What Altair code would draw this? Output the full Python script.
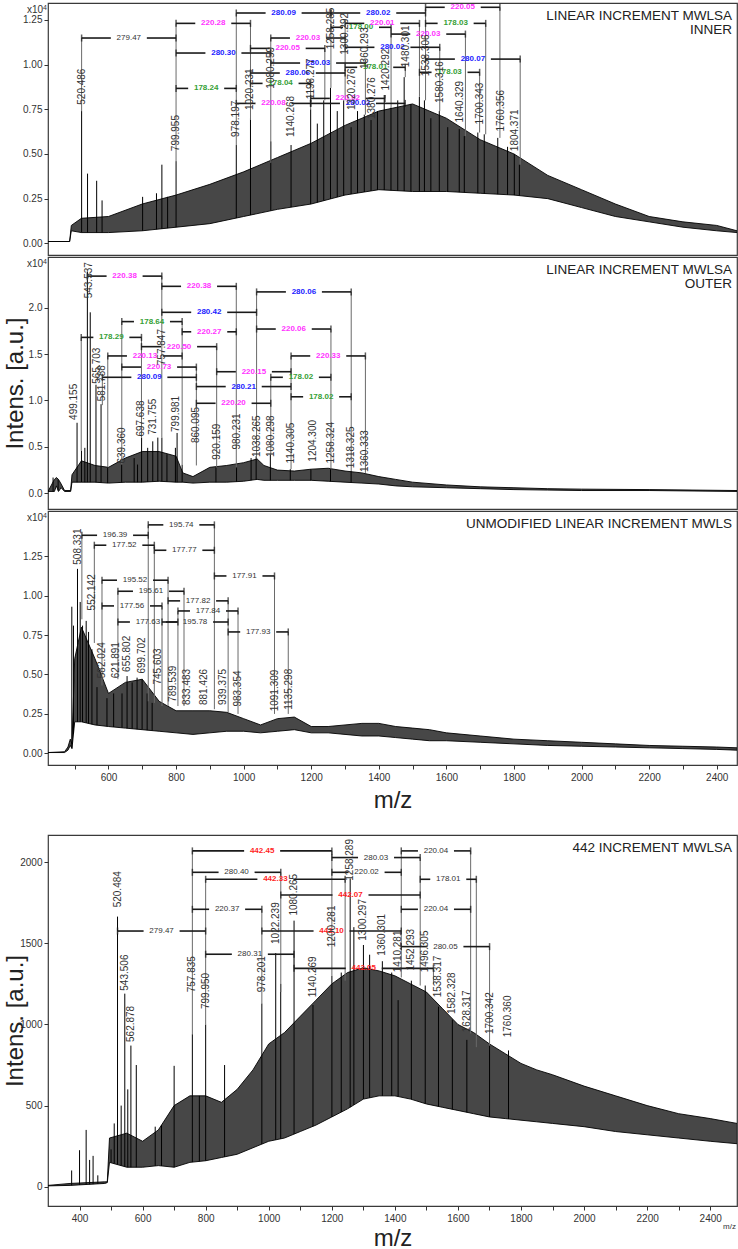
import altair as alt
import numpy as np
import pandas as pd

FONT = "Liberation Sans"
W = 689
MAG = "#ff33ff"
BLU = "#2222ff"
GRN = "#35a035"
RED = "#ff1f1f"
BLK = "#2a2a2a"

# ---------------- Panel 1 : LINEAR INCREMENT MWLSA INNER (x10^4)
p1_env_mz = [421, 485, 490, 520, 600, 700, 800, 900, 1000, 1100, 1200, 1300, 1400, 1500, 1600, 1700, 1800, 1900, 2000, 2100, 2200, 2300, 2400, 2460]
p1_env_lo = [0.01, 0.01, 0.07, 0.06, 0.06, 0.07, 0.09, 0.11, 0.15, 0.19, 0.22, 0.27, 0.30, 0.29, 0.29, 0.28, 0.27, 0.25, 0.20, 0.15, 0.12, 0.09, 0.07, 0.06]
p1_env_hi = [0.01, 0.01, 0.10, 0.14, 0.15, 0.22, 0.27, 0.33, 0.40, 0.48, 0.56, 0.66, 0.74, 0.78, 0.70, 0.58, 0.50, 0.38, 0.30, 0.22, 0.15, 0.12, 0.10, 0.07]
p1_spk_mz = [520.5, 538, 565, 581, 701, 742, 758, 775, 800.0, 978.2, 1020.2, 1080.3, 1140.3, 1198.3, 1218, 1237, 1257, 1277, 1296, 1318, 1337, 1357, 1377, 1396, 1416, 1436, 1456, 1475, 1495, 1520, 1535, 1554, 1579, 1604, 1638, 1653, 1693, 1712, 1752, 1781, 1801, 1816]
p1_spk_h = [0.74, 0.39, 0.35, 0.24, 0.26, 0.28, 0.44, 0.26, 0.46, 0.55, 0.70, 0.57, 0.55, 0.75, 0.67, 0.80, 0.87, 0.74, 0.80, 0.65, 0.74, 0.72, 0.69, 0.74, 0.83, 0.76, 0.80, 0.93, 0.78, 0.82, 0.80, 0.70, 0.74, 0.65, 0.64, 0.60, 0.62, 0.61, 0.59, 0.54, 0.50, 0.44]
p1_stem_mz = [520.486, 799.955, 978.197, 1020.231, 1080.259, 1198.277, 1240.28, 1258.285, 1300.29, 1360.29, 1418.30, 1436.29, 1478.30, 1520.30, 1538.305, 1580.31, 1656.32, 1698.33, 1716.335, 1758.355, 1818.375]
p1_stem_base = [0.74, 0.46, 0.55, 0.69, 0.45, 0.75, 0.80, 0.87, 0.80, 0.72, 0.83, 0.76, 0.93, 0.82, 0.80, 0.74, 0.60, 0.62, 0.61, 0.59, 0.44]
p1_br_x1 = [520.486, 799.955, 978.197, 799.955, 799.955, 1080.259, 1020.231, 1080.259, 1020.231, 1020.231, 978.197, 1258.285, 1300.29, 1258.285, 1538.305, 1538.305, 1436.29, 1300.29, 1538.305, 1300.29, 1520.30, 1198.277, 1198.277]
p1_br_x2 = [799.955, 1020.231, 1258.285, 1080.259, 978.197, 1300.29, 1240.28, 1360.29, 1300.29, 1198.277, 1198.277, 1436.29, 1520.30, 1538.305, 1758.355, 1716.335, 1656.32, 1580.31, 1818.375, 1478.30, 1698.33, 1418.30, 1478.30]
p1_br_y = [1.149, 1.231, 1.289, 1.065, 0.867, 1.149, 1.091, 1.009, 0.953, 0.895, 0.783, 1.209, 1.231, 1.289, 1.321, 1.231, 1.171, 1.097, 1.031, 0.985, 0.957, 0.811, 0.783]
p1_br_txt = ["279.47", "220.28", "280.09", "280.30", "178.24", "220.03", "220.05", "280.03", "280.06", "178.04", "220.08", "178.00", "220.01", "280.02", "220.05", "178.03", "220.03", "280.02", "280.07", "178.01", "178.03", "220.02", "280.02"]
p1_br_col = [BLK, MAG, BLU, BLU, GRN, MAG, MAG, BLU, BLU, GRN, MAG, GRN, MAG, BLU, MAG, GRN, MAG, BLU, BLU, GRN, GRN, MAG, BLU]
p1_lab_txt = ["520.486", "799.955", "978.197", "1020.231", "1080.259", "1140.268", "1198.277", "1258.285", "1300.292", "1320.276", "1360.293", "1380.276", "1420.292", "1480.301", "1538.306", "1580.316", "1640.329", "1700.343", "1760.356", "1804.371"]
p1_lab_mz = [520.486, 799.955, 978.197, 1020.231, 1080.259, 1140.268, 1198.277, 1258.285, 1300.292, 1320.276, 1360.293, 1380.276, 1420.292, 1480.301, 1538.306, 1580.316, 1640.329, 1700.343, 1760.356, 1804.371]
p1_lab_y = [0.77, 0.51, 0.59, 0.74, 0.86, 0.59, 0.80, 1.08, 1.05, 0.74, 0.97, 0.69, 0.85, 0.98, 0.93, 0.78, 0.67, 0.66, 0.62, 0.51]

# ---------------- Panel 2 : LINEAR INCREMENT MWLSA OUTER (x10^4)
p2_env_mz = [421, 440, 446, 452, 460, 470, 488, 492, 520, 560, 600, 650, 700, 750, 800, 820, 850, 900, 950, 1000, 1040, 1060, 1100, 1150, 1200, 1250, 1300, 1350, 1400, 1450, 1500, 1600, 1700, 1800, 1900, 2000, 2200, 2460]
p2_env_lo = [0.02, 0.02, 0.08, 0.02, 0.06, 0.02, 0.02, 0.12, 0.12, 0.12, 0.11, 0.12, 0.12, 0.13, 0.12, 0.12, 0.11, 0.12, 0.12, 0.13, 0.15, 0.14, 0.14, 0.14, 0.14, 0.13, 0.12, 0.11, 0.10, 0.08, 0.07, 0.06, 0.05, 0.04, 0.035, 0.03, 0.03, 0.02]
p2_env_hi = [0.02, 0.15, 0.17, 0.15, 0.10, 0.03, 0.03, 0.20, 0.35, 0.30, 0.28, 0.38, 0.45, 0.45, 0.40, 0.22, 0.18, 0.28, 0.30, 0.33, 0.37, 0.30, 0.25, 0.24, 0.26, 0.27, 0.24, 0.22, 0.18, 0.15, 0.12, 0.09, 0.07, 0.06, 0.05, 0.045, 0.04, 0.03]
p2_spk_mz = [436, 451, 507, 520, 530, 537.5, 546, 563, 578, 597.5, 639, 676, 686, 698, 716, 731, 746, 758, 773, 798, 803, 818, 918, 979, 1022, 1037, 1079, 1138, 1199, 1257, 1318]
p2_spk_h = [0.17, 0.15, 0.76, 0.46, 0.49, 2.39, 1.95, 1.17, 0.96, 0.28, 0.31, 0.38, 0.31, 0.60, 0.49, 0.56, 0.60, 0.60, 0.42, 0.49, 0.65, 0.31, 0.28, 0.28, 0.38, 0.40, 0.42, 0.26, 0.26, 0.26, 0.24]
p2_stem_mz = [519.35, 537.47, 581.788, 597.87, 639.36, 697.638, 757.847, 818.0, 860.095, 920.159, 978.227, 1038.265, 1080.298, 1140.305, 1258.324, 1318.325, 1360.333]
p2_stem_base = [0.46, 2.30, 0.95, 0.28, 0.31, 0.60, 0.60, 0.31, 0.30, 0.28, 0.28, 0.40, 0.42, 0.26, 0.26, 0.24, 0.22]
p2_br_x1 = [537.47, 757.847, 1038.265, 757.847, 639.36, 519.35, 818.0, 1038.265, 697.638, 597.87, 639.36, 1140.305, 581.788, 920.159, 1080.298, 860.095, 1140.305, 860.095]
p2_br_x2 = [757.847, 978.227, 1318.325, 1038.265, 818.0, 697.638, 978.227, 1258.324, 920.159, 818.0, 860.095, 1360.333, 860.095, 1140.305, 1258.324, 1140.305, 1318.325, 1080.298]
p2_br_y = [2.34, 2.23, 2.17, 1.95, 1.85, 1.68, 1.74, 1.77, 1.58, 1.48, 1.36, 1.48, 1.25, 1.31, 1.25, 1.15, 1.04, 0.97]
p2_br_txt = ["220.38", "220.38", "280.06", "280.42", "178.64", "178.29", "220.27", "220.06", "220.50", "220.13", "220.73", "220.33", "280.09", "220.15", "178.02", "280.21", "178.02", "220.20"]
p2_br_col = [MAG, MAG, BLU, BLU, GRN, GRN, MAG, MAG, MAG, MAG, MAG, MAG, BLU, MAG, GRN, BLU, GRN, MAG]
p2_lab_txt = ["499.155", "543.537", "565.703", "581.788", "639.360", "697.638", "731.755", "757.847", "799.981", "860.095", "920.159", "980.231", "1038.265", "1080.298", "1140.305", "1204.300", "1258.324", "1318.325", "1360.333"]
p2_lab_mz = [499.155, 543.537, 565.703, 581.788, 639.36, 697.638, 731.755, 757.847, 799.981, 860.095, 920.159, 980.231, 1038.265, 1080.298, 1140.305, 1204.3, 1258.324, 1318.325, 1360.333]
p2_lab_y = [0.78, 2.09, 1.17, 0.98, 0.31, 0.60, 0.62, 1.37, 0.65, 0.53, 0.35, 0.46, 0.38, 0.38, 0.31, 0.33, 0.31, 0.26, 0.22]

# ---------------- Panel 3 : UNMODIFIED LINEAR INCREMENT MWLS (x10^4)
p3_env_mz = [421, 470, 480, 487, 492, 500, 520, 560, 600, 650, 700, 750, 800, 850, 900, 950, 1000, 1050, 1100, 1150, 1200, 1250, 1300, 1350, 1400, 1450, 1500, 1550, 1600, 1700, 1800, 1900, 2000, 2100, 2200, 2300, 2400, 2460]
p3_env_lo = [0.005, 0.005, 0.02, 0.05, 0.03, 0.20, 0.20, 0.18, 0.17, 0.16, 0.15, 0.14, 0.13, 0.12, 0.13, 0.14, 0.14, 0.13, 0.14, 0.15, 0.13, 0.13, 0.12, 0.11, 0.11, 0.10, 0.09, 0.08, 0.08, 0.07, 0.06, 0.05, 0.045, 0.04, 0.035, 0.03, 0.025, 0.02]
p3_env_hi = [0.005, 0.01, 0.04, 0.09, 0.06, 0.60, 0.80, 0.60, 0.38, 0.45, 0.47, 0.33, 0.27, 0.27, 0.27, 0.26, 0.22, 0.18, 0.22, 0.23, 0.17, 0.17, 0.18, 0.19, 0.19, 0.17, 0.16, 0.15, 0.13, 0.11, 0.09, 0.08, 0.07, 0.06, 0.05, 0.045, 0.04, 0.035]
p3_spk_mz = [491.5, 496.4, 508.3, 516.3, 523.2, 534, 541, 551, 566, 595.5, 615.3, 640, 655, 670, 684.6, 699.5, 714.4, 729.2]
p3_spk_h = [0.93, 0.81, 1.17, 0.96, 0.81, 0.84, 0.77, 0.66, 0.42, 0.35, 0.38, 0.38, 0.49, 0.45, 0.48, 0.47, 0.38, 0.32]
p3_stem_mz = [521.27, 558.11, 580.8, 627.88, 717.66, 735.63, 758.4, 776.3, 805.51, 823.5, 913.40, 954.1, 983.354, 1091.309, 1132.0]
p3_stem_base = [0.85, 0.70, 0.43, 0.47, 0.33, 0.32, 0.30, 0.30, 0.30, 0.30, 0.28, 0.26, 0.25, 0.25, 0.25]
p3_br_x1 = [717.66, 521.27, 558.11, 735.63, 913.40, 580.8, 627.88, 776.3, 580.8, 805.51, 627.88, 758.4, 954.1]
p3_br_x2 = [913.40, 717.66, 735.63, 913.40, 1091.309, 776.3, 823.5, 954.1, 758.4, 983.354, 805.51, 954.1, 1132.0]
p3_br_y = [1.449, 1.383, 1.32, 1.288, 1.125, 1.098, 1.028, 0.967, 0.935, 0.903, 0.833, 0.833, 0.77]
p3_br_txt = ["195.74", "196.39", "177.52", "177.77", "177.91", "195.52", "195.61", "177.82", "177.56", "177.84", "177.63", "195.78", "177.93"]
p3_br_col = [BLK] * 13
p3_lab_txt = ["508.331", "552.142", "582.024", "621.891", "655.802", "699.702", "745.603", "789.539", "833.483", "881.426", "939.375", "983.354", "1091.309", "1135.298"]
p3_lab_mz = [508.331, 552.142, 582.024, 621.891, 655.802, 699.702, 745.603, 789.539, 833.483, 881.426, 939.375, 983.354, 1091.309, 1135.298]
p3_lab_y = [1.19, 0.90, 0.47, 0.47, 0.51, 0.50, 0.43, 0.32, 0.30, 0.30, 0.30, 0.29, 0.26, 0.27]

# ---------------- Panel 4 : 442 INCREMENT MWLSA
p4_env_mz = [300, 370, 480, 488, 495, 550, 600, 650, 700, 750, 800, 850, 900, 950, 1000, 1050, 1100, 1150, 1200, 1250, 1300, 1350, 1400, 1450, 1500, 1550, 1600, 1650, 1700, 1750, 1800, 1850, 1900, 2000, 2100, 2200, 2300, 2400, 2485]
p4_env_lo = [5, 8, 20, 25, 150, 120, 120, 130, 120, 150, 160, 180, 200, 240, 280, 300, 340, 380, 430, 480, 540, 560, 560, 540, 510, 490, 470, 450, 430, 420, 410, 400, 390, 370, 340, 320, 300, 280, 265]
p4_env_hi = [8, 20, 30, 30, 300, 330, 280, 350, 500, 560, 560, 520, 600, 720, 880, 950, 1050, 1150, 1250, 1320, 1350, 1330, 1300, 1250, 1200, 1100, 1000, 950, 880, 820, 760, 720, 690, 620, 560, 500, 450, 420, 390]
p4_spk_mz = [375, 400, 421, 432, 443, 458, 500, 510, 520.5, 532, 543.5, 553, 562.9, 580, 640, 660, 700, 757.8, 780, 800, 860, 978.2, 1022.2, 1038, 1080.3, 1140.3, 1200.3, 1230, 1258.3, 1270, 1300.3, 1320, 1360.3, 1390, 1410.3, 1452.3, 1496.3, 1538.3, 1582.3, 1628.3, 1700.3, 1760.4]
p4_spk_h = [100, 225, 350, 165, 190, 70, 230, 390, 1665, 500, 1190, 600, 870, 750, 370, 380, 745, 940, 560, 1000, 750, 1130, 1440, 1250, 1640, 1120, 1300, 1320, 1900, 1600, 1490, 1430, 1390, 1320, 1150, 1270, 1240, 1110, 1030, 905, 870, 840]
p4_stem_mz = [520.484, 757.835, 799.950, 978.201, 1038.235, 1080.265, 1200.281, 1242.28, 1420.30, 1480.31, 1522.32, 1640.34, 1658.32, 1700.342]
p4_stem_base = [1560, 940, 1000, 1130, 1200, 1346, 1300, 1270, 1290, 1240, 1250, 945, 860, 870]
p4_br_x1 = [757.835, 1200.281, 1420.30, 757.835, 1200.281, 799.950, 1480.31, 1038.235, 757.835, 1420.30, 520.484, 978.201, 799.950, 1420.30, 1080.265]
p4_br_x2 = [1200.281, 1480.31, 1640.34, 1038.235, 1420.30, 1242.28, 1658.32, 1480.31, 978.201, 1640.34, 799.950, 1420.30, 1080.265, 1700.342, 1522.32]
p4_br_y = [2070, 2029, 2070, 1938, 1938, 1895, 1895, 1798, 1710, 1710, 1576, 1576, 1433, 1480, 1346]
p4_br_txt = ["442.45", "280.03", "220.04", "280.40", "220.02", "442.33", "178.01", "442.07", "220.37", "220.04", "279.47", "442.10", "280.31", "280.05", "442.05"]
p4_br_col = [RED, BLK, BLK, BLK, BLK, RED, BLK, RED, BLK, BLK, BLK, RED, BLK, BLK, RED]
p4_lab_txt = ["520.484", "543.506", "562.878", "757.835", "799.950", "978.201", "1022.239", "1080.265", "1140.269", "1200.281", "1258.289", "1300.297", "1360.301", "1410.281", "1452.293", "1496.305", "1538.317", "1582.328", "1628.317", "1700.342", "1760.360"]
p4_lab_mz = [520.484, 543.506, 562.878, 757.835, 799.950, 978.201, 1022.239, 1080.265, 1140.269, 1200.281, 1258.289, 1300.297, 1360.301, 1410.281, 1452.293, 1496.305, 1538.317, 1582.328, 1628.317, 1700.342, 1760.360]
p4_lab_y = [1716, 1202, 886, 1192, 1089, 1192, 1490, 1665, 1161, 1470, 1880, 1510, 1418, 1316, 1326, 1316, 1161, 1058, 946, 935, 915]


def build_panel(env_mz, env_lo, env_hi, spk_mz, spk_h, stem_mz, stem_base,
                br_x1, br_x2, br_y, br_txt, br_col, lab_mz, lab_txt, lab_y,
                xdom, ydom, h, yvals, yfmt, titles, xvals=None, ytitle=None, mult=False,
                small_mz=False, xtitle_y=42):
    k = W / (xdom[1] - xdom[0])
    xs = alt.Scale(domain=xdom, nice=False, zero=False)
    ys = alt.Scale(domain=ydom, nice=False, zero=False)
    if xvals is not None:
        xax = alt.Axis(values=xvals, format="d",
                       labelExpr="datum.value % 200 === 0 ? datum.label : ''",
                       title="m/z", titleFontSize=24, titleFontWeight="normal", titleColor="#222",
                       titleX=W / 2, titleY=xtitle_y, titleAlign="center", titleBaseline="alphabetic",
                       tickSize=4, labelPadding=3, labelFontSize=10)
    else:
        xax = None
    ykw = dict(values=yvals, format=yfmt, tickSize=4, labelPadding=2, labelFontSize=10)
    if ytitle:
        ykw.update(title=ytitle, titleFontSize=24, titleFontWeight="normal", titleColor="#222",
                   titleAngle=270, titleX=-26, titleY=h / 2, titleAlign="center",
                   titleBaseline="alphabetic")
    else:
        ykw.update(title=None)
    yax = alt.Axis(**ykw)

    def X(f):
        return alt.X(f, type="quantitative", scale=xs, axis=xax)

    def Y(f):
        return alt.Y(f, type="quantitative", scale=ys, axis=yax)

    env = pd.DataFrame({"mz": env_mz, "lo": env_lo, "hi": env_hi})
    layers = []
    layers.append(alt.Chart(env).mark_area(color="#000", opacity=0.72, clip=True).encode(
        x=X("mz"), y=Y("lo"), y2="hi:Q"))
    for f in ["hi", "lo"]:
        layers.append(alt.Chart(env).mark_line(color="#000", strokeWidth=0.9, clip=True).encode(
            x=X("mz"), y=Y(f)))

    spk = pd.DataFrame({"mz": spk_mz, "t": spk_h,
                        "b": np.interp(spk_mz, env_mz, env_lo)})
    layers.append(alt.Chart(spk).mark_rule(color="#000", strokeWidth=1, clip=True).encode(
        x=X("mz"), y=Y("b"), y2="t:Q"))

    tops = []
    for m in stem_mz:
        yy = [y for a, b, y in zip(br_x1, br_x2, br_y) if abs(a - m) < 0.5 or abs(b - m) < 0.5]
        tops.append(max(yy))
    stems = pd.DataFrame({"mz": stem_mz, "b": stem_base, "t": tops})
    layers.append(alt.Chart(stems).mark_rule(color="#6a6a6a", strokeWidth=1).encode(
        x=X("mz"), y=Y("b"), y2="t:Q"))

    g = 18.0 / k
    sa, sb, sy = [], [], []
    for a, b, y in zip(br_x1, br_x2, br_y):
        m = (a + b) / 2
        if m - g > a + 1:
            sa += [a, m + g]
            sb += [m - g, b]
            sy += [y, y]
    segs = pd.DataFrame({"mz": sa, "b": sb, "y": sy})
    layers.append(alt.Chart(segs).mark_rule(color="#1a1a1a", strokeWidth=1.6).encode(
        x=X("mz"), x2="b:Q", y=Y("y")))
    ends = pd.DataFrame({"mz": list(br_x1) + list(br_x2), "y": list(br_y) * 2})
    layers.append(alt.Chart(ends).mark_tick(orient="vertical", size=7, thickness=1.5, color="#1a1a1a").encode(
        x=X("mz"), y=Y("y")))

    brt = pd.DataFrame({"mz": [(a + b) / 2 for a, b in zip(br_x1, br_x2)], "y": br_y,
                        "txt": br_txt, "col": br_col})
    blk = brt[brt["col"] == BLK]
    colr = brt[brt["col"] != BLK]
    if len(colr):
        layers.append(alt.Chart(colr).mark_text(fontSize=8, fontWeight="bold", baseline="middle",
                                                 align="center", font=FONT).encode(
            x=X("mz"), y=Y("y"), text="txt:N", color=alt.Color("col:N", scale=None)))
    if len(blk):
        layers.append(alt.Chart(blk).mark_text(fontSize=8, baseline="middle", align="center",
                                                font=FONT, color="#333").encode(
            x=X("mz"), y=Y("y"), text="txt:N"))

    labs = pd.DataFrame({"mz": lab_mz, "y": lab_y, "txt": lab_txt})
    layers.append(alt.Chart(labs).mark_text(angle=270, align="left", baseline="middle", fontSize=10,
                                            color="#333", font=FONT, dx=1).encode(
        x=X("mz"), y=Y("y"), text="txt:N"))

    one = pd.DataFrame({"z": [0]})
    for i, t in enumerate(titles):
        layers.append(alt.Chart(one).mark_text(text=t, align="right", baseline="alphabetic",
                                               fontSize=13.5, color="#222", font=FONT).encode(
            x=alt.value(W - 5), y=alt.value(17 + 14 * i)))
    if mult:
        layers.append(alt.Chart(one).mark_text(text="x10", align="left", baseline="alphabetic",
                                               fontSize=10, color="#333", font=FONT).encode(
            x=alt.value(-21), y=alt.value(10)))
        layers.append(alt.Chart(one).mark_text(text="4", align="left", baseline="alphabetic",
                                               fontSize=7, color="#333", font=FONT).encode(
            x=alt.value(-5), y=alt.value(7)))
    if small_mz:
        layers.append(alt.Chart(one).mark_text(text="m/z", align="right", baseline="alphabetic",
                                               fontSize=8, color="#333", font=FONT).encode(
            x=alt.value(W - 1), y=alt.value(h + 23)))
    return alt.layer(*layers).properties(width=W, height=h)


p1 = build_panel(p1_env_mz, p1_env_lo, p1_env_hi, p1_spk_mz, p1_spk_h, p1_stem_mz, p1_stem_base,
                 p1_br_x1, p1_br_x2, p1_br_y, p1_br_txt, p1_br_col, p1_lab_mz, p1_lab_txt, p1_lab_y,
                 [421, 2460], [-0.0655, 1.345], 252, [0, 0.25, 0.5, 0.75, 1.0, 1.25], ".2f",
                 ["LINEAR INCREMENT MWLSA", "INNER"], mult=True)
p2 = build_panel(p2_env_mz, p2_env_lo, p2_env_hi, p2_spk_mz, p2_spk_h, p2_stem_mz, p2_stem_base,
                 p2_br_x1, p2_br_x2, p2_br_y, p2_br_txt, p2_br_col, p2_lab_mz, p2_lab_txt, p2_lab_y,
                 [421, 2460], [-0.169, 2.546], 252, [0, 0.5, 1.0, 1.5, 2.0], ".1f",
                 ["LINEAR INCREMENT MWLSA", "OUTER"], ytitle="Intens. [a.u.]", mult=True)
p3 = build_panel(p3_env_mz, p3_env_lo, p3_env_hi, p3_spk_mz, p3_spk_h, p3_stem_mz, p3_stem_base,
                 p3_br_x1, p3_br_x2, p3_br_y, p3_br_txt, p3_br_col, p3_lab_mz, p3_lab_txt, p3_lab_y,
                 [421, 2460], [-0.074, 1.537], 254, [0, 0.25, 0.5, 0.75, 1.0, 1.25], ".2f",
                 ["UNMODIFIED LINEAR INCREMENT MWLS"], xvals=list(range(500, 2500, 100)), mult=True)
p4 = build_panel(p4_env_mz, p4_env_lo, p4_env_hi, p4_spk_mz, p4_spk_h, p4_stem_mz, p4_stem_base,
                 p4_br_x1, p4_br_x2, p4_br_y, p4_br_txt, p4_br_col, p4_lab_mz, p4_lab_txt, p4_lab_y,
                 [300, 2485], [-119, 2168], 371, [0, 500, 1000, 1500, 2000], "d",
                 ["442 INCREMENT MWLSA"], xvals=list(range(400, 2500, 100)), ytitle="Intens. [a.u.]",
                 small_mz=True, xtitle_y=39)

top = alt.vconcat(p1, p2, p3, spacing=0)
chart = alt.vconcat(top, p4, spacing=21).properties(
    padding={"left": 2, "top": 2, "right": 0, "bottom": 0}
).configure_view(stroke="#3a3a3a", strokeWidth=1.2).configure_axis(
    labelFont=FONT, titleFont=FONT, labelColor="#333", tickColor="#333", domain=False, grid=False
).configure_text(font=FONT)

chart.save("out.html", embed_options={"renderer": "svg", "actions": False})
